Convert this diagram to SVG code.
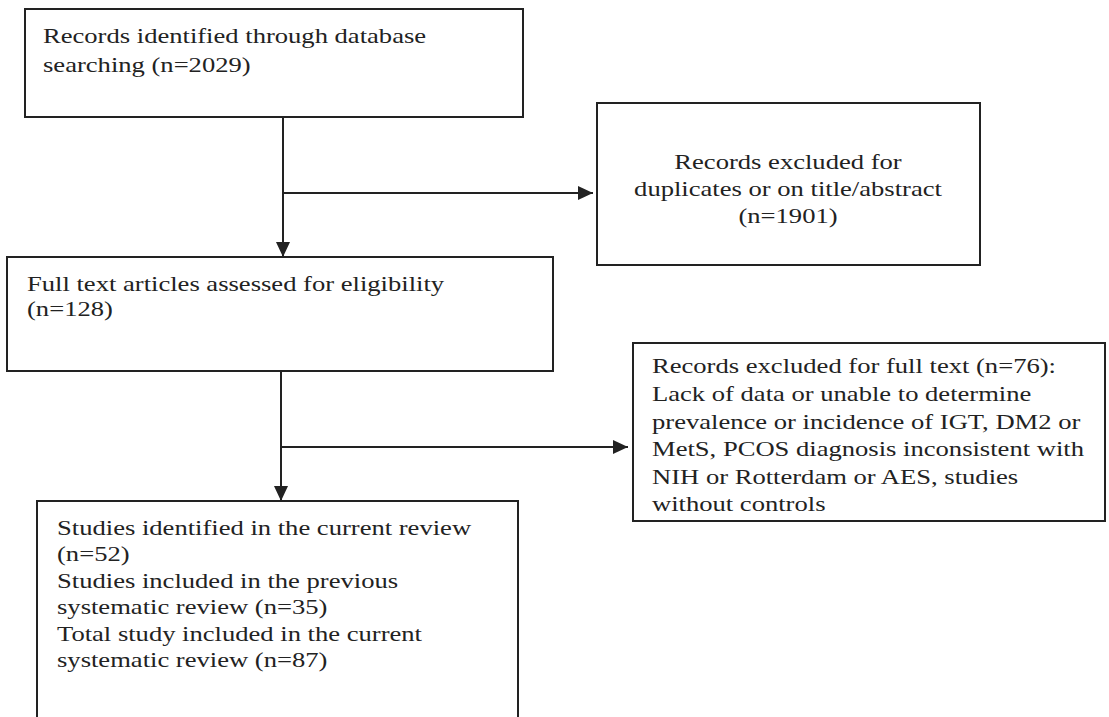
<svg xmlns="http://www.w3.org/2000/svg" width="1109" height="717" viewBox="0 0 1109 717">
<style>
.box{fill:#fff;stroke:#222;stroke-width:2}
.t{font-family:"Liberation Serif","Times New Roman",serif;font-size:22px;fill:#222}
.c{stroke:#222;stroke-width:2;fill:none}
</style>
<defs>
<marker id="ah" viewBox="0 0 15 14" refX="15" refY="7" markerWidth="15" markerHeight="14" markerUnits="userSpaceOnUse" orient="auto">
<path d="M0,0 L15,7 L0,14 Z" fill="#222"/>
</marker>
</defs>
<rect width="1109" height="717" fill="#fff"/>
<g id="connectors">
<line class="c" x1="283" y1="117" x2="283" y2="257" marker-end="url(#ah)"/>
<line class="c" x1="283" y1="193" x2="593" y2="193" marker-end="url(#ah)"/>
<line class="c" x1="281" y1="371" x2="281" y2="501" marker-end="url(#ah)"/>
<line class="c" x1="281" y1="447" x2="628" y2="447" marker-end="url(#ah)"/>
</g>
<g id="node-identified">
<rect class="box" x="25" y="9" width="498" height="108"/>
<g transform="translate(43,0) scale(1.209,1)">
<text class="t" x="0" y="43">Records identified through database</text>
<text class="t" x="0" y="72">searching (n=2029)</text>
</g>
</g>
<g id="node-excluded-duplicates">
<rect class="box" x="597" y="103" width="383" height="162"/>
<g transform="translate(788,0) scale(1.209,1)">
<text class="t" x="0" y="169" text-anchor="middle">Records excluded for</text>
<text class="t" x="0" y="196" text-anchor="middle">duplicates or on title/abstract</text>
<text class="t" x="0" y="223" text-anchor="middle">(n=1901)</text>
</g>
</g>
<g id="node-fulltext">
<rect class="box" x="7" y="257" width="546" height="114"/>
<g transform="translate(27,0) scale(1.209,1)">
<text class="t" x="0" y="291">Full text articles assessed for eligibility</text>
<text class="t" x="0" y="316">(n=128)</text>
</g>
</g>
<g id="node-excluded-fulltext">
<rect class="box" x="633" y="343" width="472" height="178"/>
<g transform="translate(652,0) scale(1.209,1)">
<text class="t" x="0" y="373">Records excluded for full text (n=76):</text>
<text class="t" x="0" y="401">Lack of data or unable to determine</text>
<text class="t" x="0" y="429">prevalence or incidence of IGT, DM2 or</text>
<text class="t" x="0" y="456">MetS, PCOS diagnosis inconsistent with</text>
<text class="t" x="0" y="484">NIH or Rotterdam or AES, studies</text>
<text class="t" x="0" y="511">without controls</text>
</g>
</g>
<g id="node-included">
<path class="box" d="M37,718 V501 H518 V718"/>
<g transform="translate(57,0) scale(1.209,1)">
<text class="t" x="0" y="535">Studies identified in the current review</text>
<text class="t" x="0" y="561">(n=52)</text>
<text class="t" x="0" y="588">Studies included in the previous</text>
<text class="t" x="0" y="614">systematic review (n=35)</text>
<text class="t" x="0" y="641">Total study included in the current</text>
<text class="t" x="0" y="667">systematic review (n=87)</text>
</g>
</g>
</svg>
